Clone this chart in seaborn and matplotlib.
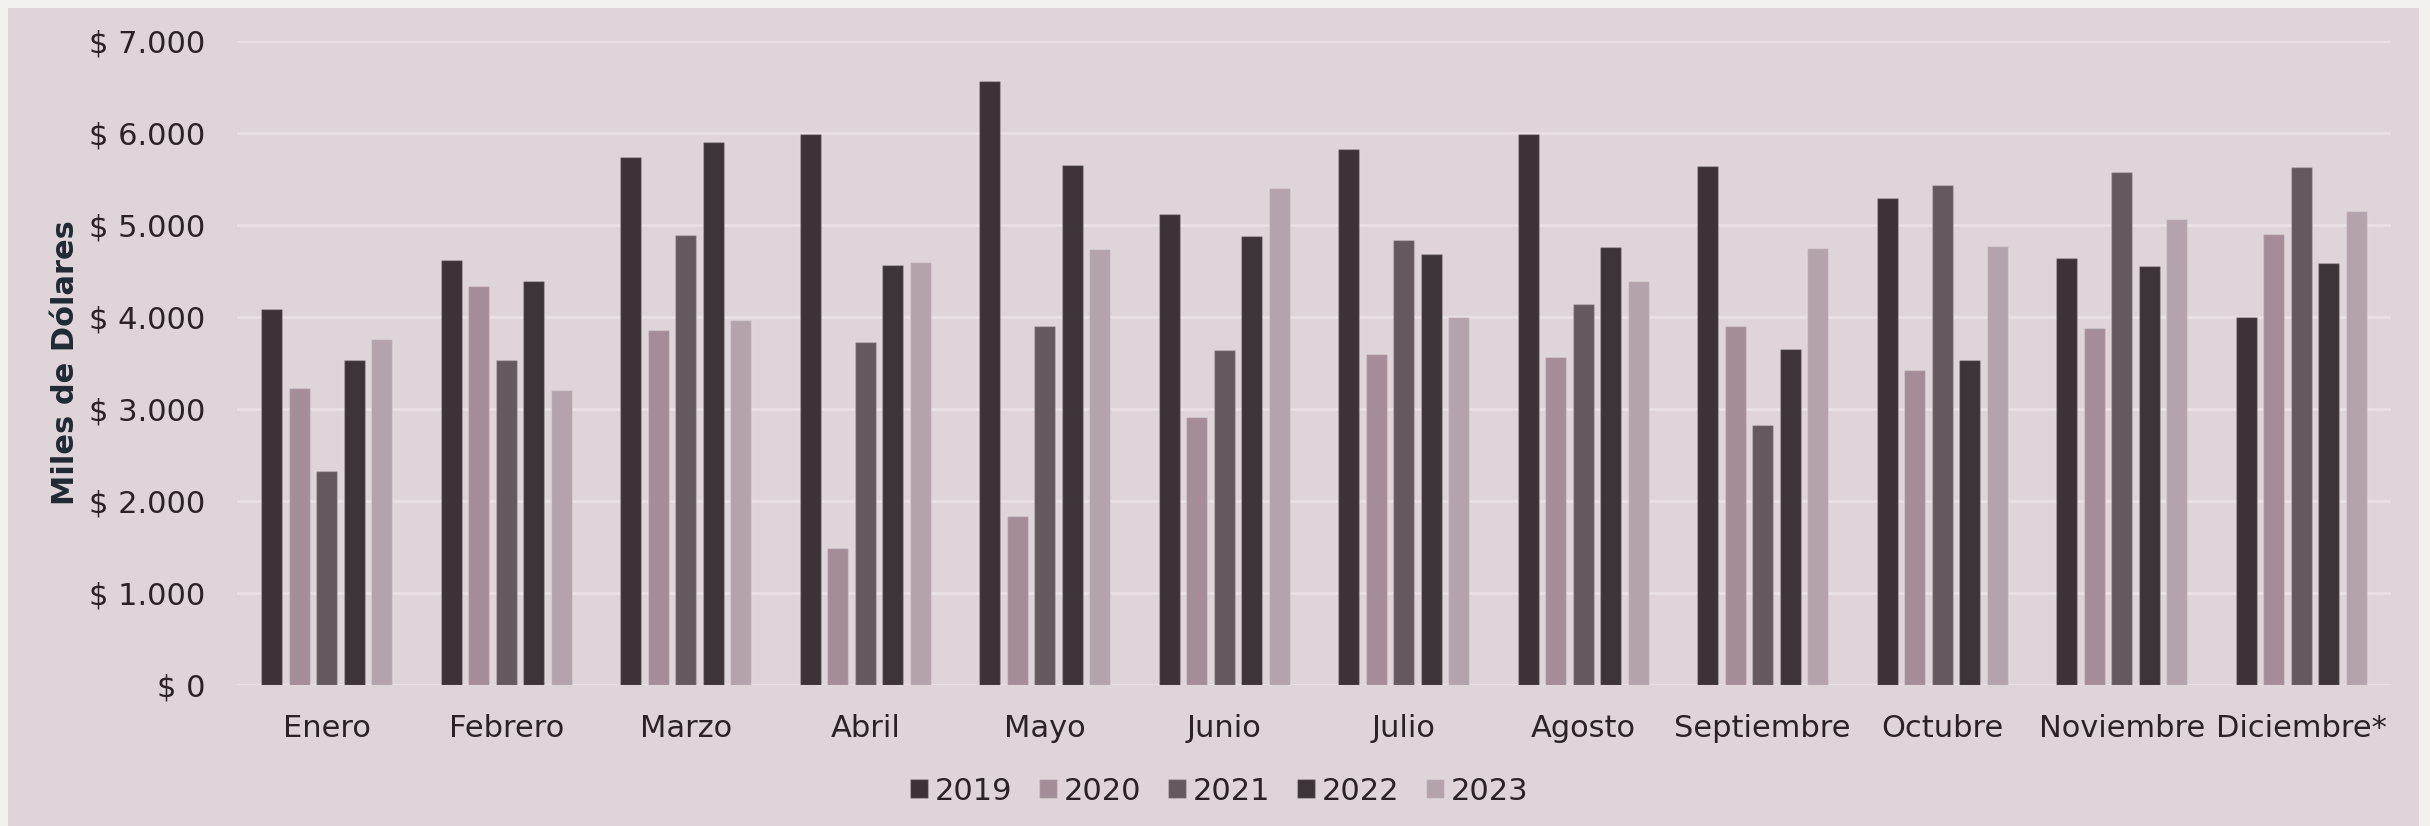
import matplotlib
matplotlib.use("Agg")
import matplotlib.pyplot as plt
import matplotlib.patches as mpatches
from matplotlib.ticker import FuncFormatter
import seaborn as sns
import pandas as pd

# ---- data (miles de dólares) ----
meses = ["Enero", "Febrero", "Marzo", "Abril", "Mayo", "Junio", "Julio",
         "Agosto", "Septiembre", "Octubre", "Noviembre", "Diciembre*"]
anios = ["2019", "2020", "2021", "2022", "2023"]
v2019 = [4085, 4615, 5740, 5990, 6560, 5120, 5820, 5985, 5640, 5295, 4635, 4000]
v2020 = [3225, 4330, 3855, 1490, 1835, 2910, 3600, 3560, 3895, 3425, 3880, 4900]
v2021 = [2320, 3530, 4890, 3730, 3900, 3635, 4835, 4135, 2820, 5430, 5570, 5625]
v2022 = [3535, 4390, 5900, 4565, 5645, 4875, 4680, 4755, 3650, 3535, 4550, 4590]
v2023 = [3760, 3205, 3965, 4595, 4735, 5400, 3995, 4385, 4750, 4770, 5060, 5155]
colores = ["#3e3037", "#a88998", "#65575e", "#3e3239", "#b7a0ae"]
yticks = [0, 1000, 2000, 3000, 4000, 5000, 6000, 7000]

series = [v2019, v2020, v2021, v2022, v2023]
rows = []
for anio, vals in zip(anios, series):
    for mes, v in zip(meses, vals):
        rows.append({"Mes": mes, "Año": anio, "Valor": v})
df = pd.DataFrame(rows)

# ---- figure ----
W, H = 2430, 826
fig = plt.figure(figsize=(W / 100, H / 100), dpi=100, facecolor="#f3f1ee")
panel = mpatches.Rectangle((8 / W, 0), (2419 - 8) / W, (H - 8) / H,
                           transform=fig.transFigure, facecolor="#dfd4da",
                           edgecolor="none", zorder=-10)
fig.patches.append(panel)

ax = fig.add_axes([237 / W, (H - 685) / H, (2391 - 237) / W, (685 - 40.7) / H])
ax.set_facecolor("none")

sns.barplot(data=df, x="Mes", y="Valor", hue="Año", hue_order=anios,
            order=meses, palette=colores, width=0.766, gap=0.22,
            edgecolor=(1, 1, 1, 0.2), linewidth=1.0, ax=ax, zorder=3)

ax.set_ylim(0, 7000)
ax.set_xlim(-0.5, len(meses) - 0.5)
ax.set_yticks(yticks)
ax.yaxis.set_major_formatter(FuncFormatter(
    lambda v, p: "$ " + f"{int(v):,}".replace(",", ".")))
for s in ax.spines.values():
    s.set_visible(False)
ax.grid(axis="y", color="#e9e1e6", linewidth=2, zorder=0)
ax.grid(axis="x", visible=False)
ax.set_axisbelow(True)

txt = "#2a2226"
ax.tick_params(axis="both", length=0, labelsize=22, colors=txt)
ax.tick_params(axis="x", pad=21)
ax.tick_params(axis="y", pad=23)
ax.set_xlabel("")
ax.set_ylabel("Miles de Dólares", fontsize=22, fontweight="bold", color="#1f2a33")
ax.yaxis.set_label_coords(-0.0729, 0.5)

sns.move_legend(ax, "center", bbox_to_anchor=(1219 / W, 1 - 791 / H),
                bbox_transform=fig.transFigure, ncol=5, frameon=False,
                title=None, fontsize=22, handlelength=0.59, handleheight=0.59,
                handletextpad=0.22, columnspacing=0.88, labelcolor=txt)

fig.savefig("out.png", dpi=100, facecolor=fig.get_facecolor())
